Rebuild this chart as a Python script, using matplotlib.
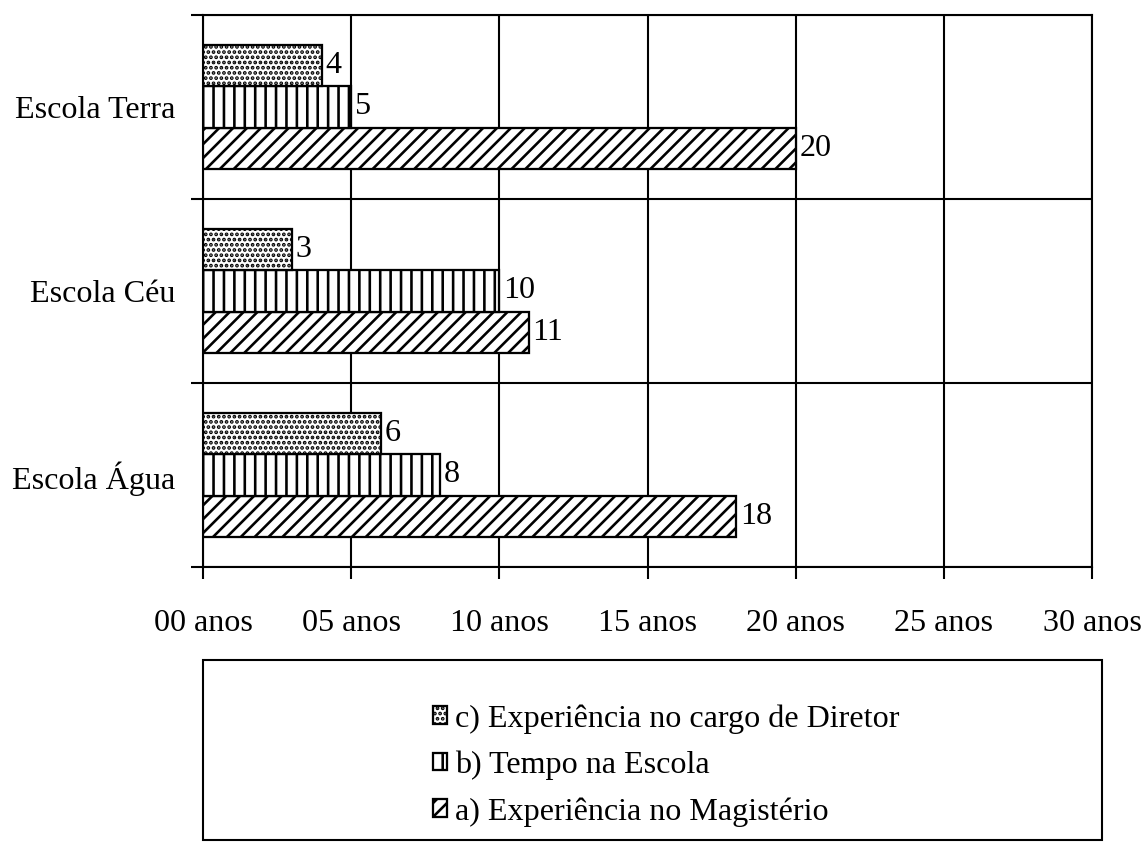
import matplotlib.pyplot as plt
import numpy as np
from matplotlib.patches import Rectangle

schools = ["Escola Água", "Escola Céu", "Escola Terra"]
magisterio = [18, 11, 20]
tempo_escola = [8, 10, 5]
cargo_diretor = [6, 3, 4]
x_ticks = [0, 5, 10, 15, 20, 25, 30]
x_labels = ["00 anos", "05 anos", "10 anos", "15 anos", "20 anos", "25 anos", "30 anos"]

plt.rcParams["font.family"] = ["Liberation Serif", "DejaVu Serif"]
plt.rcParams["hatch.linewidth"] = 1.5
plt.rcParams["hatch.color"] = "black"

DPI = 125
fig = plt.figure(figsize=(1142 / DPI, 856 / DPI), dpi=DPI)
ax = fig.add_axes([203 / 1142, 1 - 567 / 856, (1092 - 203) / 1142, (567 - 15) / 856])

y = np.arange(len(schools))
h = 0.223
fs = 18.5

series = [
    (magisterio, -h, "///", "a) Experiência no Magistério"),
    (tempo_escola, 0, "||", "b) Tempo na Escola"),
    (cargo_diretor, h, "....", "c) Experiência no cargo de Diretor"),
]
handles = []
for vals, off, hatch, label in series:
    bars = ax.barh(y + off, vals, height=h, color="white", edgecolor="black",
                   linewidth=1.3, hatch=hatch, label=label, zorder=3)
    ax.bar_label(bars, padding=2, fontsize=fs)
    handles.append(bars)

ax.set_xlim(0, 30)
ax.set_ylim(-0.5, 2.5)
ax.set_xticks(x_ticks)
ax.set_xticklabels(x_labels, fontsize=fs)
ax.set_yticks([-0.5, 0.5, 1.5, 2.5])
ax.set_yticklabels([])
ax.set_yticks(y, minor=True)
ax.set_yticklabels(schools, minor=True, fontsize=fs)
ax.tick_params(axis="y", which="minor", length=0, pad=16)
ax.tick_params(axis="y", which="major", length=7, width=1.2)
ax.tick_params(axis="x", length=7, width=1.2, pad=17)
ax.grid(True, which="major", color="black", linewidth=1.2, zorder=0)
for s in ax.spines.values():
    s.set_linewidth(1.2)

fig.patches.append(Rectangle((203 / 1142, 1 - 840 / 856), (1102 - 203) / 1142, 180 / 856,
                             transform=fig.transFigure, fill=False, edgecolor="black",
                             linewidth=1.2))
fig.legend(handles[::-1], [s[3] for s in series][::-1], loc="upper left",
           bbox_to_anchor=(433 / 1142, 1 - 704 / 856), frameon=False, fontsize=fs,
           handlelength=0.45, handleheight=0.45, handletextpad=0.25, labelspacing=0.53,
           borderpad=0, borderaxespad=0)

fig.savefig("out.png", dpi=DPI)
